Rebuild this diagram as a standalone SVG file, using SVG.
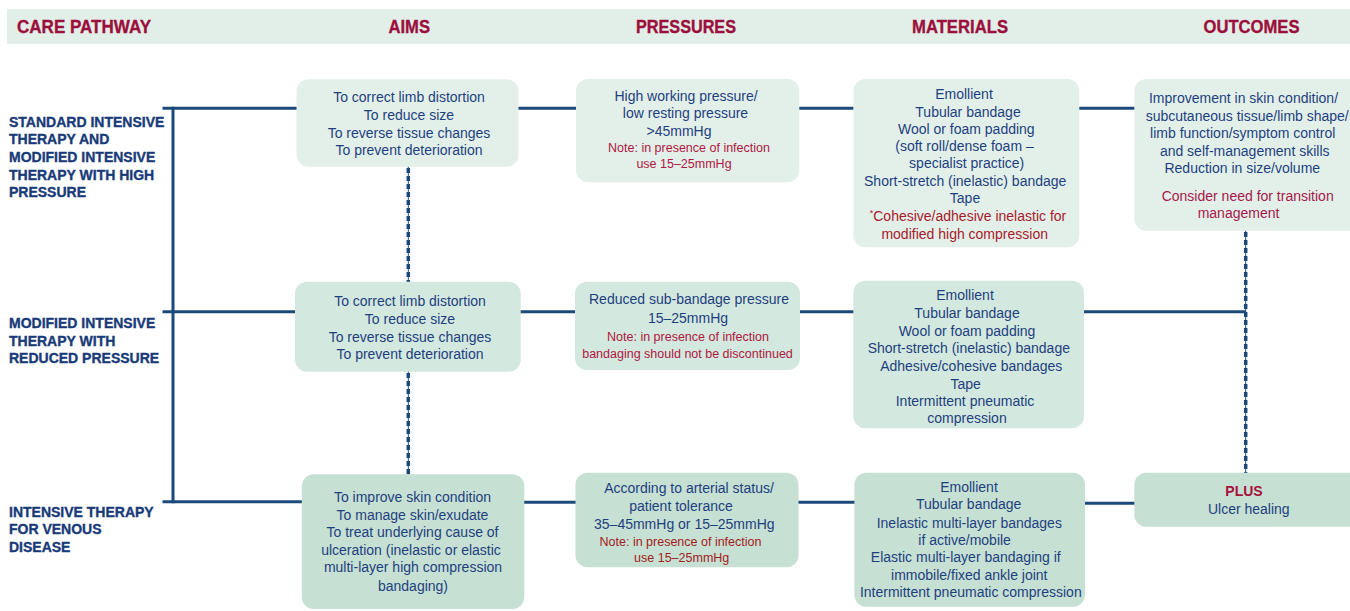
<svg xmlns="http://www.w3.org/2000/svg" width="1350" height="611" viewBox="0 0 1350 611">
<defs>
<style>
.hd{font-family:"Liberation Sans",Arial,sans-serif;font-weight:bold;font-size:17.5px;fill:#9c0f3c;stroke:#9c0f3c;stroke-width:0.35}
.lb{font-family:"Liberation Sans",Arial,sans-serif;font-weight:bold;font-size:14px;fill:#183a78;stroke:#183a78;stroke-width:0.35}
.t{font-family:"Liberation Sans",Arial,sans-serif;font-size:14px;fill:#1e3f7f;text-anchor:middle}
.n{font-family:"Liberation Sans",Arial,sans-serif;font-size:12.5px;fill:#b01742;text-anchor:middle}
.r{fill:#a8192b}
.b1{fill:#e3f0ea}
.b2{fill:#d3e8de}
.b3{fill:#c6e0d3}
.ln{stroke:#1b4a7a;stroke-width:3;fill:none}
.dt{stroke:#1b4a7a;stroke-width:1;fill:none}
.dd{stroke:#1b4a7a;stroke-width:3.5;stroke-dasharray:5 3;fill:none}
</style>
</defs>
<rect x="7" y="9" width="1343" height="35" fill="#e2efe8"/>
<g id="headers">
<text class="hd" x="17" y="33.3" textLength="134" lengthAdjust="spacingAndGlyphs">CARE PATHWAY</text>
<text class="hd" x="388.5" y="33.3" textLength="41.5" lengthAdjust="spacingAndGlyphs">AIMS</text>
<text class="hd" x="636" y="33.3" textLength="100" lengthAdjust="spacingAndGlyphs">PRESSURES</text>
<text class="hd" x="912" y="33.3" textLength="96" lengthAdjust="spacingAndGlyphs">MATERIALS</text>
<text class="hd" x="1203.5" y="33.3" textLength="96" lengthAdjust="spacingAndGlyphs">OUTCOMES</text>
</g>
<g id="connectors">
<line class="ln" x1="173" y1="106.8" x2="173" y2="503.2"/>
<line class="ln" x1="162.5" y1="108.3" x2="297" y2="108.3"/>
<line class="ln" x1="518" y1="108.3" x2="577" y2="108.3"/>
<line class="ln" x1="799" y1="108.3" x2="854" y2="108.3"/>
<line class="ln" x1="1079" y1="108.3" x2="1135" y2="108.3"/>
<line class="ln" x1="162.5" y1="311.7" x2="296" y2="311.7"/>
<line class="ln" x1="520" y1="311.7" x2="576" y2="311.7"/>
<line class="ln" x1="799" y1="311.7" x2="854" y2="311.7"/>
<line class="ln" x1="1083" y1="311.7" x2="1246" y2="311.7"/>
<line class="ln" x1="162.5" y1="501.7" x2="302" y2="501.7"/>
<line class="ln" x1="524" y1="502.2" x2="576" y2="502.2"/>
<line class="ln" x1="798" y1="502.2" x2="855" y2="502.2"/>
<line class="ln" x1="1084" y1="503.3" x2="1135" y2="503.3"/>
<line class="dt" x1="408.3" y1="166" x2="408.3" y2="282"/>
<line class="dd" x1="408.3" y1="168" x2="408.3" y2="282"/>
<line class="dt" x1="408.3" y1="371" x2="408.3" y2="475"/>
<line class="dd" x1="408.3" y1="373" x2="408.3" y2="475"/>
<line class="dt" x1="1245.7" y1="230" x2="1245.7" y2="473"/>
<line class="dd" x1="1245.7" y1="232" x2="1245.7" y2="473"/>
</g>
<g id="label-standard">
<text class="lb" x="9" y="126.7">STANDARD INTENSIVE</text>
<text class="lb" x="9" y="144.3">THERAPY AND</text>
<text class="lb" x="9" y="162">MODIFIED INTENSIVE</text>
<text class="lb" x="9" y="179.5">THERAPY WITH HIGH</text>
<text class="lb" x="9" y="197">PRESSURE</text>
</g>
<g id="label-modified">
<text class="lb" x="9" y="328.3">MODIFIED INTENSIVE</text>
<text class="lb" x="9" y="346">THERAPY WITH</text>
<text class="lb" x="9" y="363.3">REDUCED PRESSURE</text>
</g>
<g id="label-venous">
<text class="lb" x="9" y="516.7">INTENSIVE THERAPY</text>
<text class="lb" x="9" y="534">FOR VENOUS</text>
<text class="lb" x="9" y="551.7">DISEASE</text>
</g>
<g id="aims-1">
<rect class="b1" x="296.5" y="79.3" width="222" height="87.4" rx="12"/>
<text class="t" x="409" y="102">To correct limb distortion</text>
<text class="t" x="409" y="120">To reduce size</text>
<text class="t" x="409" y="137.7">To reverse tissue changes</text>
<text class="t" x="409" y="155.2">To prevent deterioration</text>
</g>
<g id="pressures-1">
<rect class="b1" x="576" y="79" width="223.3" height="103.3" rx="12"/>
<text class="t" x="686" y="100.7">High working pressure/</text>
<text class="t" x="685.5" y="118.3">low resting pressure</text>
<text class="t" x="679" y="136">&gt;45mmHg</text>
<text class="n" x="689" y="152">Note: in presence of infection</text>
<text class="n" x="684" y="168">use 15–25mmHg</text>
</g>
<g id="materials-1">
<rect class="b1" x="853.3" y="79" width="226" height="168.3" rx="12"/>
<text class="t" x="964" y="99">Emollient</text>
<text class="t" x="968" y="116.7">Tubular bandage</text>
<text class="t" x="966.3" y="133.5">Wool or foam padding</text>
<text class="t" x="964.5" y="151">(soft roll/dense foam –</text>
<text class="t" x="966.7" y="168.3">specialist practice)</text>
<text class="t" x="965.2" y="185.5">Short-stretch (inelastic) bandage</text>
<text class="t" x="965" y="202.7">Tape</text>
<text class="t r" x="968" y="221"><tspan font-size="9" dy="-5">*</tspan><tspan dy="5">Cohesive/adhesive inelastic for</tspan></text>
<text class="t r" x="964.7" y="238.7">modified high compression</text>
</g>
<g id="outcomes-1">
<rect class="b1" x="1134.3" y="79" width="240" height="151.7" rx="12"/>
<text class="t" x="1243.5" y="102.7">Improvement in skin condition/</text>
<text class="t" x="1247.2" y="121">subcutaneous tissue/limb shape/</text>
<text class="t" x="1242.7" y="138.3">limb function/symptom control</text>
<text class="t" x="1244.7" y="156">and self-management skills</text>
<text class="t" x="1242.3" y="173.3">Reduction in size/volume</text>
<text class="t" x="1247.7" y="200.7" style="fill:#a8174a">Consider need for transition</text>
<text class="t" x="1238.5" y="217.7" style="fill:#a8174a">management</text>
</g>
<g id="aims-2">
<rect class="b2" x="295" y="281.7" width="225.7" height="90" rx="12"/>
<text class="t" x="410" y="306">To correct limb distortion</text>
<text class="t" x="410" y="324.3">To reduce size</text>
<text class="t" x="410" y="342.3">To reverse tissue changes</text>
<text class="t" x="410" y="359">To prevent deterioration</text>
</g>
<g id="pressures-2">
<rect class="b2" x="575" y="281.7" width="225" height="88.3" rx="12"/>
<text class="t" x="689" y="304.3">Reduced sub-bandage pressure</text>
<text class="t" x="688" y="322.7">15–25mmHg</text>
<text class="n" x="688" y="341">Note: in presence of infection</text>
<text class="n" x="687.5" y="357.8">bandaging should not be discontinued</text>
</g>
<g id="materials-2">
<rect class="b2" x="853.3" y="280.7" width="230.7" height="147.6" rx="12"/>
<text class="t" x="965" y="300">Emollient</text>
<text class="t" x="967" y="318.3">Tubular bandage</text>
<text class="t" x="967" y="335.7">Wool or foam padding</text>
<text class="t" x="968.8" y="353.3">Short-stretch (inelastic) bandage</text>
<text class="t" x="971.2" y="370.7">Adhesive/cohesive bandages</text>
<text class="t" x="965.7" y="389.3">Tape</text>
<text class="t" x="965" y="406">Intermittent pneumatic</text>
<text class="t" x="967" y="422.7">compression</text>
</g>
<g id="aims-3">
<rect class="b3" x="301.8" y="474.3" width="222.5" height="134.7" rx="12"/>
<text class="t" x="412.5" y="502.3">To improve skin condition</text>
<text class="t" x="412.5" y="519.5">To manage skin/exudate</text>
<text class="t" x="412.5" y="537.3">To treat underlying cause of</text>
<text class="t" x="411" y="555">ulceration (inelastic or elastic</text>
<text class="t" x="413" y="572.3">multi-layer high compression</text>
<text class="t" x="413" y="590.7">bandaging)</text>
</g>
<g id="pressures-3">
<rect class="b3" x="575.5" y="472.7" width="223" height="94.6" rx="12"/>
<text class="t" x="689" y="493.3">According to arterial status/</text>
<text class="t" x="681" y="511">patient tolerance</text>
<text class="t" x="684.3" y="529.3">35–45mmHg or 15–25mmHg</text>
<text class="n" x="680.5" y="545.5" style="fill:#a31b1b">Note: in presence of infection</text>
<text class="n" x="681.7" y="562" style="fill:#a31b1b">use 15–25mmHg</text>
</g>
<g id="materials-3">
<rect class="b3" x="854.4" y="472.7" width="230.6" height="134" rx="12"/>
<text class="t" x="969" y="491.7">Emollient</text>
<text class="t" x="968.7" y="509.3">Tubular bandage</text>
<text class="t" x="969.3" y="527.7">Inelastic multi-layer bandages</text>
<text class="t" x="964.6" y="545">if active/mobile</text>
<text class="t" x="965.8" y="562.3">Elastic multi-layer bandaging if</text>
<text class="t" x="969.3" y="580">immobile/fixed ankle joint</text>
<text class="t" x="970.8" y="597.3">Intermittent pneumatic compression</text>
</g>
<g id="outcomes-3">
<rect class="b3" x="1134.3" y="472.7" width="240" height="54" rx="12"/>
<text class="t" x="1244" y="496" style="fill:#a8103c;font-weight:bold">PLUS</text>
<text class="t" x="1248.8" y="514.3">Ulcer healing</text>
</g>
</svg>
